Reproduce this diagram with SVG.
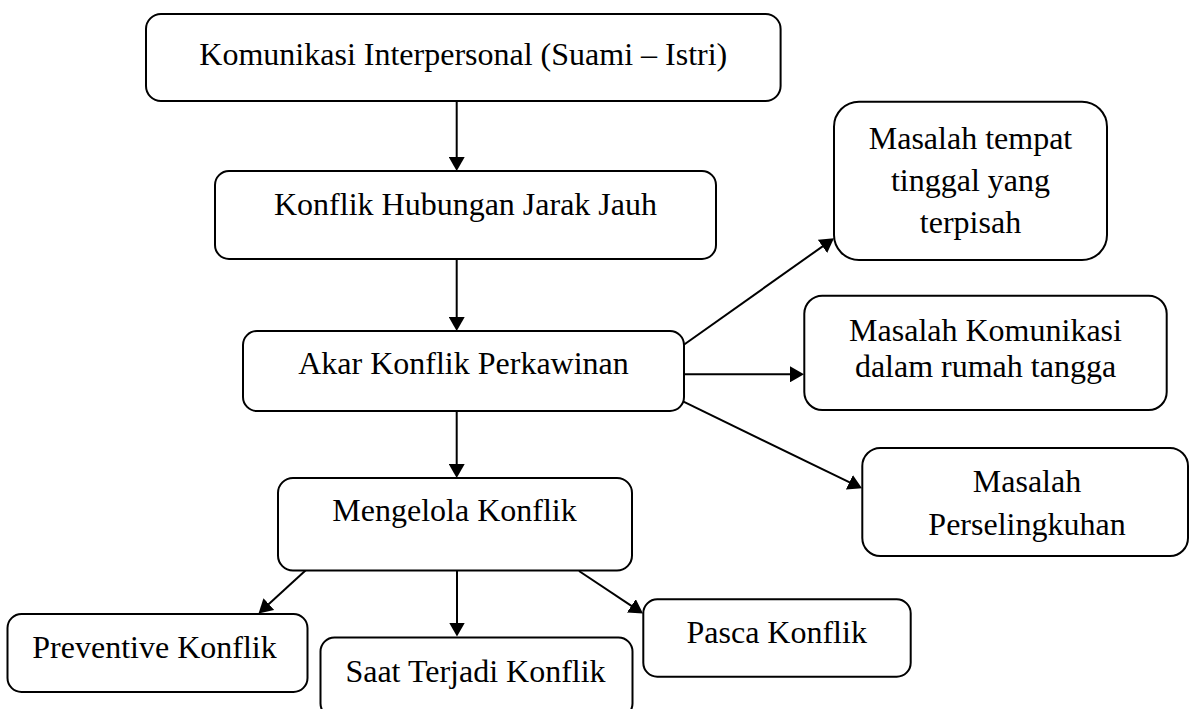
<svg xmlns="http://www.w3.org/2000/svg" width="1189" height="709" viewBox="0 0 1189 709">
  <style>
    .box { fill: #ffffff; stroke: #000000; stroke-width: 2; }
    .lbl { font-family: "Liberation Serif", "Times New Roman", serif; font-size: 32px; fill: #000000; text-anchor: middle; }
    .conn { stroke: #000000; stroke-width: 2; fill: none; marker-end: url(#arrow); }
  </style>
  <defs>
    <marker id="arrow" markerUnits="userSpaceOnUse" markerWidth="14" markerHeight="16" viewBox="0 0 14 16" refX="10" refY="8" orient="auto">
      <path d="M0,0 L14,8 L0,16 Z" fill="#000000"/>
    </marker>
  </defs>
  <rect width="1189" height="709" fill="#ffffff"/>

  <g id="connectors">
    <line class="conn" x1="456.7" y1="101" x2="456.7" y2="167"/>
    <line class="conn" x1="456.7" y1="259" x2="456.7" y2="327"/>
    <line class="conn" x1="456.7" y1="411" x2="456.7" y2="474"/>
    <line class="conn" x1="306" y1="570" x2="261.5" y2="610.8"/>
    <line class="conn" x1="457" y1="570" x2="457" y2="632.5"/>
    <line class="conn" x1="579" y1="571" x2="639.7" y2="611.3"/>
    <line class="conn" x1="683.5" y1="345" x2="830.7" y2="240.6"/>
    <line class="conn" x1="683.5" y1="374.3" x2="800" y2="374.3"/>
    <line class="conn" x1="683.5" y1="401.7" x2="858.4" y2="486.6"/>
  </g>

  <g id="node-komunikasi">
    <rect class="box" x="146" y="14" width="634.6" height="87" rx="15" ry="15"/>
    <text class="lbl" x="463.3" y="64.5">Komunikasi Interpersonal (Suami – Istri)</text>
  </g>
  <g id="node-konflik-jarak-jauh">
    <rect class="box" x="215" y="171" width="501" height="88" rx="14" ry="14"/>
    <text class="lbl" x="465.5" y="215">Konflik Hubungan Jarak Jauh</text>
  </g>
  <g id="node-akar-konflik">
    <rect class="box" x="243" y="331" width="441" height="80" rx="14" ry="14"/>
    <text class="lbl" x="463.5" y="374">Akar Konflik Perkawinan</text>
  </g>
  <g id="node-mengelola">
    <rect class="box" x="278" y="478" width="354" height="92.5" rx="15" ry="15"/>
    <text class="lbl" x="454.5" y="520.7">Mengelola Konflik</text>
  </g>
  <g id="node-preventive">
    <rect class="box" x="7.5" y="614" width="300" height="78" rx="14" ry="14"/>
    <text class="lbl" x="154.5" y="658">Preventive Konflik</text>
  </g>
  <g id="node-saat">
    <rect class="box" x="320.5" y="637.5" width="312" height="80" rx="14" ry="14"/>
    <text class="lbl" x="475.5" y="682">Saat Terjadi Konflik</text>
  </g>
  <g id="node-pasca">
    <rect class="box" x="643.3" y="599.3" width="267.4" height="77.4" rx="14" ry="14"/>
    <text class="lbl" x="776.7" y="642.7">Pasca Konflik</text>
  </g>
  <g id="node-tempat-tinggal">
    <rect class="box" x="834" y="101.7" width="273" height="158.3" rx="25" ry="25"/>
    <text class="lbl" x="970.5" y="149">Masalah tempat</text>
    <text class="lbl" x="970.5" y="190.8">tinggal yang</text>
    <text class="lbl" x="970.5" y="232.7">terpisah</text>
  </g>
  <g id="node-komunikasi-rumah-tangga">
    <rect class="box" x="804.3" y="295.7" width="362.4" height="114.3" rx="18" ry="18"/>
    <text class="lbl" x="985.5" y="341">Masalah Komunikasi</text>
    <text class="lbl" x="985.5" y="377.3">dalam rumah tangga</text>
  </g>
  <g id="node-perselingkuhan">
    <rect class="box" x="862.3" y="448" width="325.7" height="108" rx="18" ry="18"/>
    <text class="lbl" x="1027" y="492.3">Masalah</text>
    <text class="lbl" x="1027" y="535">Perselingkuhan</text>
  </g>
</svg>
